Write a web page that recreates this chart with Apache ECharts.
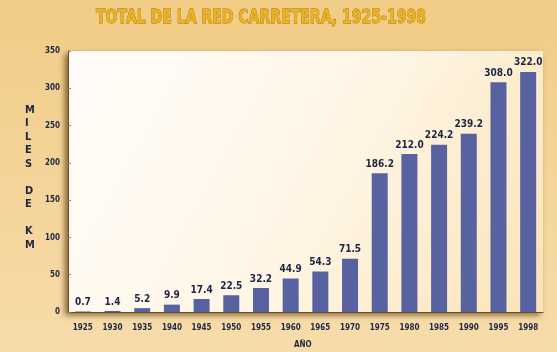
<!DOCTYPE html>
<html>
<head>
<meta charset="utf-8">
<script src="https://cdn.jsdelivr.net/npm/echarts@6/dist/echarts.min.js"></script>
<style>
  html, body { margin: 0; padding: 0; }
  #chart { width: 557px; height: 352px; }
</style>
</head>
<body>
<div id="chart"></div>
<script>
// Road network length by year (thousands of km)
const years = ['1925', '1930', '1935', '1940', '1945', '1950', '1955', '1960',
               '1965', '1970', '1975', '1980', '1985', '1990', '1995', '1998'];
const lengthKm = [0.7, 1.4, 5.2, 9.9, 17.4, 22.5, 32.2, 44.9,
                  54.3, 71.5, 186.2, 212.0, 224.2, 239.2, 308.0, 322.0];
const yTicks = [0, 50, 100, 150, 200, 250, 300, 350];

const FONT = '"DejaVu Sans Condensed", sans-serif';
const INK = '#1d2545';

const chart = echarts.init(document.getElementById('chart'), null, { renderer: 'canvas' });

chart.setOption({
  animation: false,
  backgroundColor: {
    type: 'linear', x: 0, y: 0, x2: 0, y2: 1,
    colorStops: [
      { offset: 0, color: '#f1cc86' },
      { offset: 1, color: '#f7dcaa' }
    ]
  },
  grid: {
    left: 68,
    right: 14,
    top: 51,
    bottom: 40,
    show: true,
    borderWidth: 0,
    backgroundColor: {
      type: 'linear', x: 0, y: 0, x2: 1, y2: 1,
      colorStops: [
        { offset: 0, color: '#fffdfa' },
        { offset: 0.55, color: '#fff5e4' },
        { offset: 1, color: '#fae3b6' }
      ]
    },
    shadowColor: 'rgba(90,55,10,0.75)',
    shadowBlur: 6,
    shadowOffsetX: -3,
    shadowOffsetY: 3
  },
  graphic: [
    {
      // chart title, drawn narrow and tall
      type: 'text',
      x: 261,
      y: 18,
      scaleX: 0.78,
      scaleY: 1,
      style: {
        text: 'TOTAL DE LA RED CARRETERA, 1925-1998',
        fontFamily: FONT,
        fontWeight: 'bold',
        fontSize: 20,
        fill: '#ebb31c',
        stroke: '#a06a0c',
        lineWidth: 0.8,
        align: 'center',
        verticalAlign: 'middle',
        shadowColor: 'rgba(70,40,0,0.85)',
        shadowBlur: 2,
        shadowOffsetX: 1,
        shadowOffsetY: 1.5
      }
    },
    {
      type: 'text',
      left: 25,
      top: 103,
      style: {
        text: 'M\nI\nL\nE\nS\n\nD\nE\n\nK\nM',
        fontFamily: FONT,
        fontWeight: 'bold',
        fontSize: 11,
        lineHeight: 13.5,
        fill: INK,
        align: 'center'
      }
    },
    {
      type: 'text',
      left: 294,
      top: 341,
      style: {
        text: 'AÑO',
        fontFamily: FONT,
        fontWeight: 'bold',
        fontSize: 8,
        fill: INK
      }
    }
  ],
  xAxis: {
    type: 'category',
    data: years,
    axisLine: { show: true, lineStyle: { color: '#6b4f2a', width: 1 } },
    axisTick: { show: false },
    axisLabel: {
      margin: 12,
      fontFamily: FONT,
      fontWeight: 'bold',
      fontSize: 8,
      color: INK,
      interval: 0
    }
  },
  yAxis: {
    type: 'value',
    min: yTicks[0],
    max: yTicks[yTicks.length - 1],
    interval: 50,
    splitLine: { show: false },
    axisLine: { show: true, lineStyle: { color: '#6b4f2a', width: 1 } },
    axisTick: { show: true, inside: true, length: 3, lineStyle: { color: '#c0704a' } },
    axisLabel: {
      margin: 8,
      fontFamily: FONT,
      fontWeight: 'bold',
      fontSize: 8,
      color: INK
    }
  },
  series: [{
    type: 'bar',
    data: lengthKm,
    barWidth: 16,
    itemStyle: { color: '#5862a0' },
    label: {
      show: true,
      position: 'top',
      distance: 4,
      fontFamily: FONT,
      fontWeight: 'bold',
      fontSize: 10,
      color: INK,
      formatter: p => p.value.toFixed(1)
    }
  }]
});
</script>
</body>
</html>
